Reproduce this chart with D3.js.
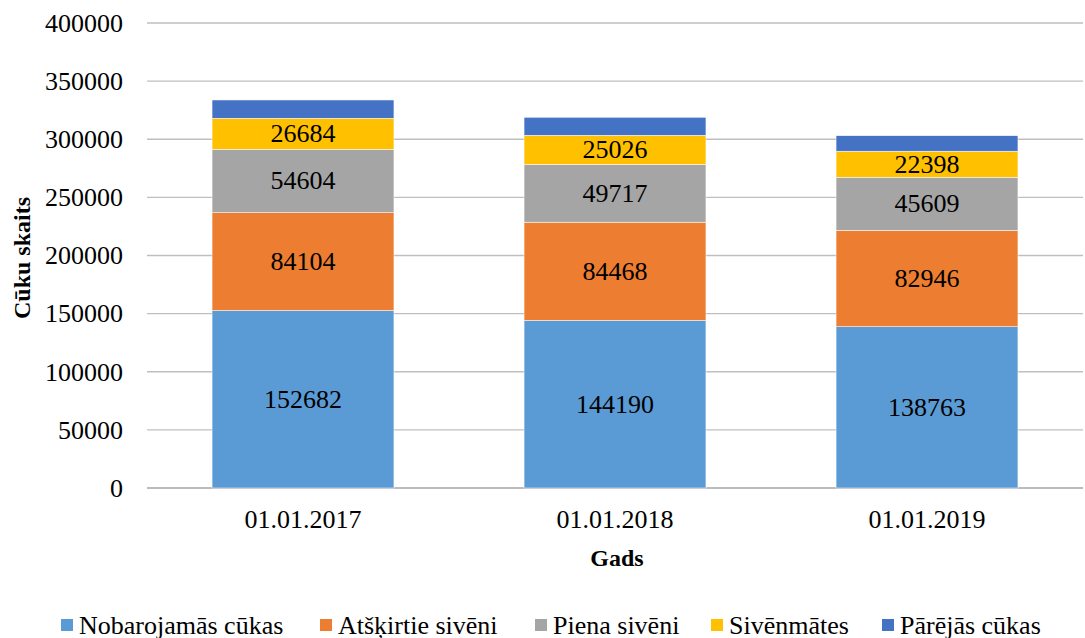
<!DOCTYPE html>
<html>
<head>
<meta charset="utf-8">
<script src="https://cdn.jsdelivr.net/npm/d3@7"></script>
<style>
  body { margin: 0; background: #fff; }
</style>
</head>
<body>
<svg width="1085" height="638" style='font-family: "Liberation Serif"'></svg>
<script>
let years = ["01.01.2017", "01.01.2018", "01.01.2019"];
let seriesNames = ["Nobarojamās cūkas", "Atšķirtie sivēni", "Piena sivēni", "Sivēnmātes", "Pārējās cūkas"];
let nobarojamas = [152682, 144190, 138763];
let atskirtie = [84104, 84468, 82946];
let piena = [54604, 49717, 45609];
let sivenmates = [26684, 25026, 22398];
let parejas = [15700, 15500, 13350];
let seriesColors = ["#5b9bd5", "#ed7d31", "#a5a5a5", "#ffc000", "#4472c4"];
let showLabel = [true, true, true, true, false];
let yTicks = [0, 50000, 100000, 150000, 200000, 250000, 300000, 350000, 400000];

let serifFont = '"Liberation Serif"';
let fontSize = 26;

function render() {
  let svg = d3.select("svg");
  let margin = {left: 147, right: 2, top: 23, bottom: 150};
  let width = 1085;

  let rows = years.map((y, i) => ({
    year: y,
    s0: nobarojamas[i], s1: atskirtie[i], s2: piena[i], s3: sivenmates[i], s4: parejas[i]
  }));
  let keys = ["s0", "s1", "s2", "s3", "s4"];
  let stacked = d3.stack().keys(keys)(rows);

  let xScale = d3.scaleBand()
    .domain(years)
    .range([margin.left, width - margin.right])
    .paddingInner(0.417)
    .paddingOuter(0.2085);
  let yScale = d3.scaleLinear()
    .domain([0, 400000])
    .range([488, margin.top]);

  // grid
  svg.append("g")
    .selectAll("line")
    .data(yTicks)
    .enter()
    .append("line")
    .attr("x1", margin.left)
    .attr("x2", width - margin.right)
    .attr("y1", d => yScale(d))
    .attr("y2", d => yScale(d))
    .attr("stroke", d => d === 0 ? "#a6a6a6" : "#bfbfbf")
    .attr("stroke-width", 1.3);

  let yAxis = d3.axisLeft(yScale).tickValues(yTicks).tickSize(0).tickPadding(24).tickFormat(d3.format("d"));
  let gY = svg.append("g")
    .attr("transform", `translate(${margin.left}, 0)`)
    .call(yAxis)
    .attr("font-family", null)
    .attr("font-size", null);
  gY.select(".domain").remove();
  gY.selectAll("text")
    .style("font-family", serifFont)
    .attr("font-size", fontSize)
    .attr("fill", "#000");

  let xAxis = d3.axisBottom(xScale).tickSize(0).tickPadding(0);
  let gX = svg.append("g")
    .attr("transform", `translate(0, 488)`)
    .call(xAxis)
    .attr("font-family", null)
    .attr("font-size", null);
  gX.select(".domain").remove();
  gX.selectAll("text")
    .attr("y", 31)
    .attr("dy", null)
    .attr("dominant-baseline", "central")
    .style("font-family", serifFont)
    .attr("font-size", fontSize)
    .attr("fill", "#000");

  // bars
  stacked.forEach((layer, k) => {
    let g = svg.append("g");
    g.selectAll("rect")
      .data(layer)
      .enter()
      .append("rect")
      .attr("x", d => xScale(d.data.year))
      .attr("y", d => yScale(d[1]))
      .attr("width", xScale.bandwidth())
      .attr("height", d => yScale(d[0]) - yScale(d[1]))
      .attr("fill", seriesColors[k])
      .attr("stroke", "#fff")
      .attr("stroke-width", 0.5);
    if (showLabel[k]) {
      g.selectAll("text")
        .data(layer)
        .enter()
        .append("text")
        .attr("x", d => xScale(d.data.year) + xScale.bandwidth() / 2)
        .attr("y", d => (yScale(d[0]) + yScale(d[1])) / 2)
        .attr("text-anchor", "middle")
        .attr("dominant-baseline", "central")
        .style("font-family", serifFont)
        .attr("font-size", fontSize)
        .attr("fill", "#000")
        .text(d => d[1] - d[0]);
    }
  });

  // axis titles
  svg.append("text")
    .attr("x", 617)
    .attr("y", 558)
    .attr("text-anchor", "middle")
    .attr("dominant-baseline", "central")
    .style("font-family", serifFont)
    .attr("font-size", 24)
    .attr("font-weight", "bold")
    .text("Gads");
  svg.append("text")
    .attr("transform", `translate(22, 258) rotate(-90)`)
    .attr("text-anchor", "middle")
    .attr("dominant-baseline", "central")
    .style("font-family", serifFont)
    .attr("font-size", 24)
    .attr("font-weight", "bold")
    .text("Cūku skaits");

  // legend
  let legendX = [61, 320, 535, 711, 882];
  let legend = svg.append("g")
    .selectAll("g")
    .data(seriesNames)
    .enter()
    .append("g")
    .attr("transform", (_, i) => `translate(${legendX[i]}, 625)`);
  legend.append("rect")
    .attr("x", 0)
    .attr("y", -6)
    .attr("width", 12)
    .attr("height", 12)
    .attr("fill", (_, i) => seriesColors[i]);
  legend.append("text")
    .attr("x", 18)
    .attr("y", 0)
    .attr("dominant-baseline", "central")
    .style("font-family", serifFont)
    .attr("font-size", fontSize)
    .text(d => d);
}

render();
</script>
</body>
</html>
